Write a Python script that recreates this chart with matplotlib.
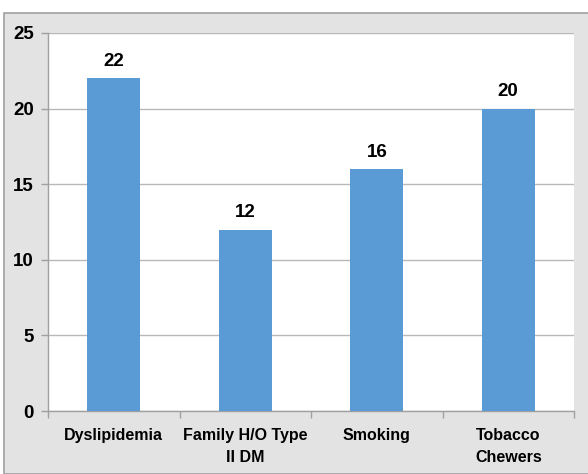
import numpy as np
import matplotlib.pyplot as plt
from matplotlib.patches import Rectangle

categories = ['Dyslipidemia', 'Family H/O Type\nII DM', 'Smoking', 'Tobacco\nChewers']
values = [22, 12, 16, 20]
yticks = [0, 5, 10, 15, 20, 25]

plt.rcParams['font.family'] = ['Liberation Sans', 'DejaVu Sans']
plt.rcParams['font.weight'] = 'bold'

W, H = 588, 474
fig = plt.figure(figsize=(W / 100, H / 100), dpi=100)
fig.patch.set_facecolor('white')

# textured-looking outer panel (flat grey stand-in)
fig.patches.append(Rectangle((4 / W, 0), 1, 1 - 13 / H, transform=fig.transFigure,
                             facecolor='#e3e3e3', edgecolor='#a0a0a0', linewidth=1.2, zorder=-10))

ax = fig.add_axes([48 / W, 1 - 411 / H, (574 - 48) / W, (411 - 33) / H])
ax.set_facecolor('white')

x = np.arange(len(categories))
bars = ax.bar(x, values, width=0.4, color='#5b9bd5', zorder=3)
for xi, v in zip(x, values):
    ax.annotate(str(v), (xi, v), xytext=(0, 6), textcoords='offset points',
                ha='center', va='bottom', fontsize=13.5, fontweight='bold')

ax.set_xlim(-0.5, len(categories) - 0.5)
ax.set_ylim(0, 25)
ax.set_yticks(yticks)
ax.set_yticklabels([str(t) for t in yticks], fontsize=13.5, fontweight='bold')
ax.yaxis.grid(True, color='#b8b8b8', linewidth=1, zorder=0)

ax.set_xticks(x)
ax.set_xticklabels(categories, fontsize=11.5, fontweight='bold', linespacing=1.6)
ax.set_xticks(np.arange(-0.5, len(categories)), minor=True)
ax.tick_params(axis='x', which='major', length=0, pad=12)
ax.tick_params(axis='x', which='minor', length=5, color='#a0a0a0', width=1)
ax.tick_params(axis='y', length=5, color='#a0a0a0', width=1, pad=5)

for side in ['top', 'right']:
    ax.spines[side].set_visible(False)
for side in ['left', 'bottom']:
    ax.spines[side].set_color('#a0a0a0')
    ax.spines[side].set_linewidth(1)

fig.savefig('out.png', dpi=100)
